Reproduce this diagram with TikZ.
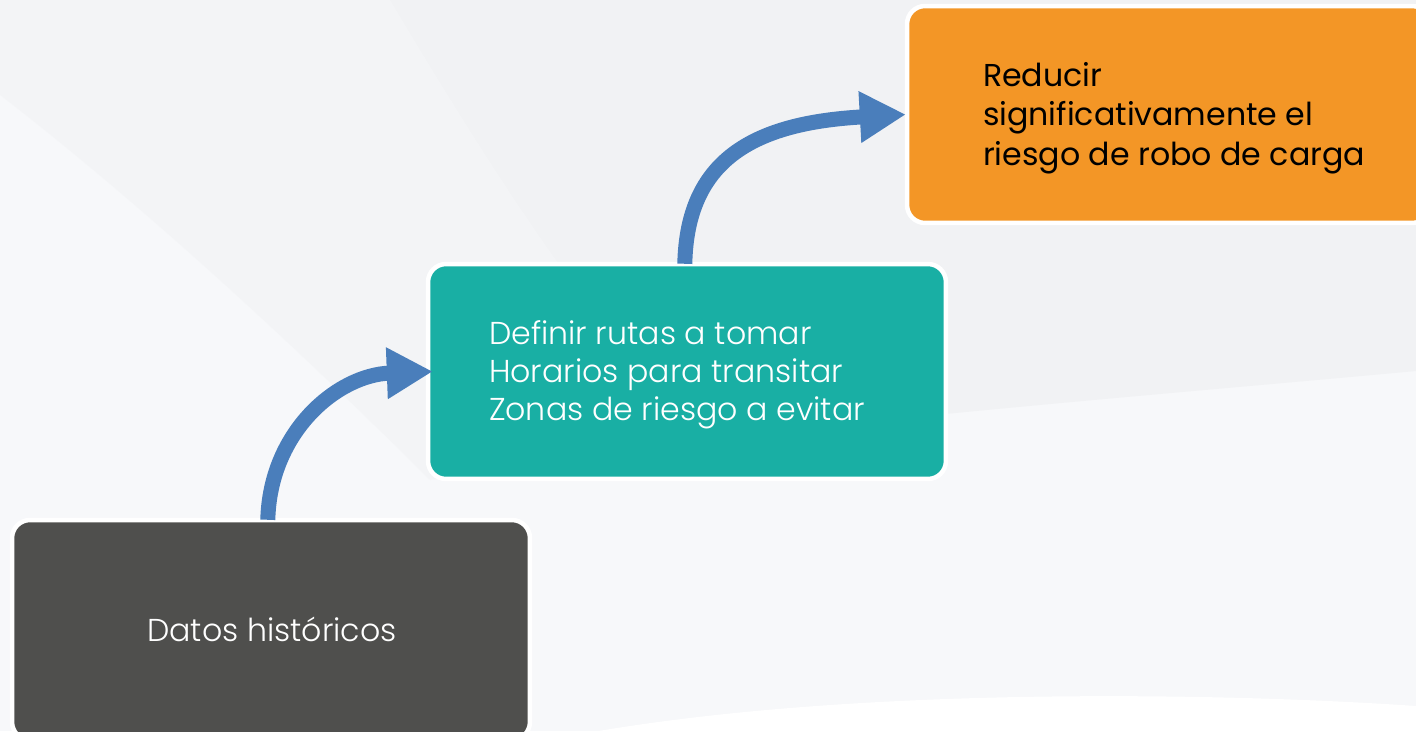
\documentclass[tikz,border=0pt]{standalone}
\usepackage{fontspec}
\setmainfont{Poppins}
\newfontfamily\lightfont{Poppins Light}
\usetikzlibrary{arrows.meta,calc}
\definecolor{bgdark}{HTML}{F1F2F4}
\definecolor{bglight}{HTML}{F7F8FA}
\definecolor{darkbox}{HTML}{4F4F4D}
\definecolor{tealbox}{HTML}{19AFA4}
\definecolor{orangebox}{HTML}{F39626}
\definecolor{arrowblue}{HTML}{4A7EBB}
\tikzset{
  stagebox/.style={draw=white, line width=0.09cm, rounded corners=0.36cm,
    minimum width=10.36cm, minimum height=4.3cm, inner sep=0pt},
  stagetext/.style={align=left, inner sep=0pt, font=\fontsize{18}{21.6}\selectfont},
  flowarrow/.style={draw=arrowblue, line width=0.3cm,
    -{Triangle[width=0.97cm,length=0.92cm]}}
}
\begin{document}
\begin{tikzpicture}[x=0.02cm,y=0.02cm]
\useasboundingbox (0,0) rectangle (1416,731);
\clip (0,0) rectangle (1416,731);
% background
\fill[bglight] (0,0) rectangle (1416,731);
\fill[bgdark] (390,731) .. controls (480,580) and (580,420) .. (700,291)
  .. controls (950,320) and (1200,340) .. (1416,360) -- (1416,731) -- cycle;
\fill[bgdark, opacity=0.5] (0,636) .. controls (150,520) and (300,380) .. (430,251)
  -- (700,291) .. controls (580,420) and (480,580) .. (390,731) -- (0,731) -- cycle;
\fill[white] (430,-40) .. controls (700,50) and (1200,40) .. (1416,25) -- (1416,-40) -- cycle;
% boxes
\node[stagebox, fill=darkbox, minimum height=4.4cm] (dark) at (271,101) {};
\node[stagetext, text=white, font=\lightfont\fontsize{18}{21.6}\selectfont] (darktext)
  at (272,102) {Datos históricos};
\node[stagebox, fill=tealbox] (teal) at (687,359.5) {};
\node[stagetext, text=white, font=\lightfont\fontsize{18}{21.6}\selectfont] (tealtext)
  at (677,356) {Definir rutas a tomar\\Horarios para transitar\\Zonas de riesgo a evitar};
\node[stagebox, fill=orangebox, minimum width=10.46cm, minimum height=4.34cm]
  (goal) at (1168.5,616.5) {};
\node[stagetext, text=black, font=\fontsize{18}{22.4}\selectfont] (goaltext)
  at (1174,613) {Reducir\\significativamente el\\riesgo de robo de carga};
% arrows
\draw[flowarrow] ($(dark.north west)+(258,-2)$) .. controls (270,300) and (338,356) .. ($(teal.west)+(7,0)$);
\draw[flowarrow] ($(teal.north west)+(259,-2)$) .. controls (687,570) and (752,608) .. ($(goal.west)+(1,0)$);
\end{tikzpicture}
\end{document}
